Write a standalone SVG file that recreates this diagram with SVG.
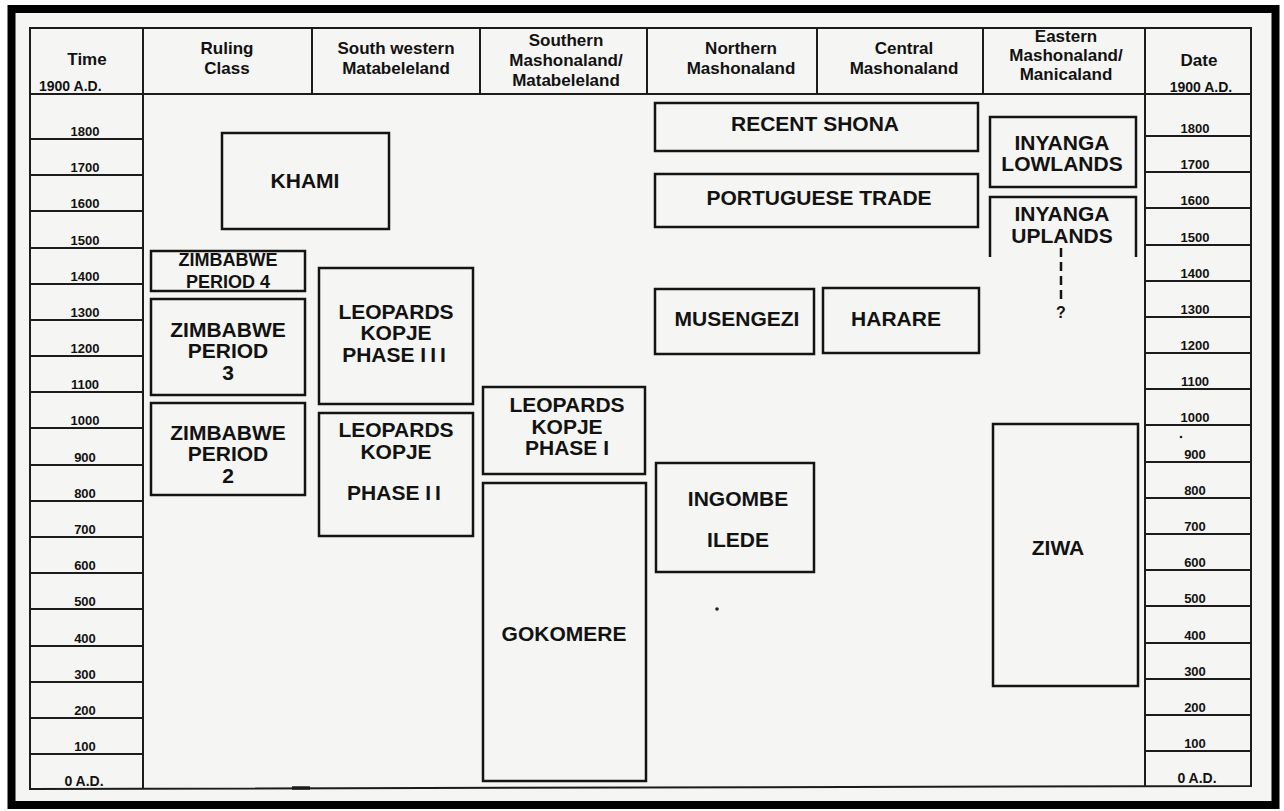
<svg xmlns="http://www.w3.org/2000/svg" width="1284" height="811" viewBox="0 0 1284 811">
<style>
  text { font-family: "Liberation Sans", Arial, sans-serif; font-weight: 700; fill: #121212; text-anchor: middle; }
  .hd { font-size: 17px; }
  .yr { font-size: 13px; }
  .ad { font-size: 14px; }
  .bx { font-size: 21px; }
  .grid line, .grid path { stroke: #1c1c1c; stroke-width: 2; fill: none; }
  .node rect, .node path { fill: none; stroke: #141414; stroke-width: 2.5; }
  .dash { stroke: #141414; stroke-width: 2.5; stroke-dasharray: 9 5; fill: none; }
</style>
<rect x="0" y="0" width="1284" height="811" fill="#ffffff"/>
<rect x="11.5" y="9" width="1264" height="796" fill="#f5f5f3" stroke="#000000" stroke-width="8"/>

<g id="grid" class="grid">
  <path d="M30,28 H1251 V786 L30,789 Z"/>
  <line x1="30" y1="94" x2="1251" y2="94"/>
  <line x1="143" y1="28" x2="143" y2="789"/>
  <line x1="312" y1="28" x2="312" y2="94"/>
  <line x1="480" y1="28" x2="480" y2="94"/>
  <line x1="647" y1="28" x2="647" y2="94"/>
  <line x1="817" y1="28" x2="817" y2="94"/>
  <line x1="983" y1="28" x2="983" y2="94"/>
  <line x1="1145" y1="28" x2="1145" y2="786"/>
  <line x1="292" y1="788" x2="310" y2="788" style="stroke-width:3.5"/>
  <line x1="30" y1="139" x2="143" y2="139"/>
  <line x1="30" y1="175" x2="143" y2="175"/>
  <line x1="30" y1="211" x2="143" y2="211"/>
  <line x1="30" y1="248" x2="143" y2="248"/>
  <line x1="30" y1="284" x2="143" y2="284"/>
  <line x1="30" y1="320" x2="143" y2="320"/>
  <line x1="30" y1="356" x2="143" y2="356"/>
  <line x1="30" y1="392" x2="143" y2="392"/>
  <line x1="30" y1="428" x2="143" y2="428"/>
  <line x1="30" y1="465" x2="143" y2="465"/>
  <line x1="30" y1="501" x2="143" y2="501"/>
  <line x1="30" y1="537" x2="143" y2="537"/>
  <line x1="30" y1="573" x2="143" y2="573"/>
  <line x1="30" y1="609" x2="143" y2="609"/>
  <line x1="30" y1="646" x2="143" y2="646"/>
  <line x1="30" y1="682" x2="143" y2="682"/>
  <line x1="30" y1="718" x2="143" y2="718"/>
  <line x1="30" y1="754" x2="143" y2="754"/>
  <line x1="1145" y1="136" x2="1251" y2="136"/>
  <line x1="1145" y1="172" x2="1251" y2="172"/>
  <line x1="1145" y1="208" x2="1251" y2="208"/>
  <line x1="1145" y1="245" x2="1251" y2="245"/>
  <line x1="1145" y1="281" x2="1251" y2="281"/>
  <line x1="1145" y1="317" x2="1251" y2="317"/>
  <line x1="1145" y1="353" x2="1251" y2="353"/>
  <line x1="1145" y1="389" x2="1251" y2="389"/>
  <line x1="1145" y1="425" x2="1251" y2="425"/>
  <line x1="1145" y1="462" x2="1251" y2="462"/>
  <line x1="1145" y1="498" x2="1251" y2="498"/>
  <line x1="1145" y1="534" x2="1251" y2="534"/>
  <line x1="1145" y1="570" x2="1251" y2="570"/>
  <line x1="1145" y1="606" x2="1251" y2="606"/>
  <line x1="1145" y1="643" x2="1251" y2="643"/>
  <line x1="1145" y1="679" x2="1251" y2="679"/>
  <line x1="1145" y1="715" x2="1251" y2="715"/>
  <line x1="1145" y1="751" x2="1251" y2="751"/>
</g>

<g id="header">
  <text class="hd" x="87" y="65">Time</text>
  <text class="ad" x="39" y="91" style="text-anchor:start">1900 A.D.</text>
  <text class="hd" x="227" y="54">Ruling</text>
  <text class="hd" x="227" y="74">Class</text>
  <text class="hd" x="396" y="54">South western</text>
  <text class="hd" x="396" y="74">Matabeleland</text>
  <text class="hd" x="566" y="46">Southern</text>
  <text class="hd" x="566" y="66">Mashonaland/</text>
  <text class="hd" x="566" y="86">Matabeleland</text>
  <text class="hd" x="741" y="54">Northern</text>
  <text class="hd" x="741" y="74">Mashonaland</text>
  <text class="hd" x="904" y="54">Central</text>
  <text class="hd" x="904" y="74">Mashonaland</text>
  <text class="hd" x="1066" y="42">Eastern</text>
  <text class="hd" x="1066" y="61">Mashonaland/</text>
  <text class="hd" x="1066" y="80">Manicaland</text>
  <text class="hd" x="1199" y="66">Date</text>
  <text class="ad" x="1201" y="92">1900 A.D.</text>
</g>

<g id="time-axis">
  <text class="yr" x="85" y="136">1800</text>
  <text class="yr" x="85" y="172">1700</text>
  <text class="yr" x="85" y="208">1600</text>
  <text class="yr" x="85" y="245">1500</text>
  <text class="yr" x="85" y="281">1400</text>
  <text class="yr" x="85" y="317">1300</text>
  <text class="yr" x="85" y="353">1200</text>
  <text class="yr" x="85" y="389">1100</text>
  <text class="yr" x="85" y="425">1000</text>
  <text class="yr" x="85" y="462">900</text>
  <text class="yr" x="85" y="498">800</text>
  <text class="yr" x="85" y="534">700</text>
  <text class="yr" x="85" y="570">600</text>
  <text class="yr" x="85" y="606">500</text>
  <text class="yr" x="85" y="643">400</text>
  <text class="yr" x="85" y="679">300</text>
  <text class="yr" x="85" y="715">200</text>
  <text class="yr" x="85" y="751">100</text>
  <text class="ad" x="84" y="786">0 A.D.</text>
</g>

<g id="date-axis">
  <text class="yr" x="1195" y="133">1800</text>
  <text class="yr" x="1195" y="169">1700</text>
  <text class="yr" x="1195" y="205">1600</text>
  <text class="yr" x="1195" y="242">1500</text>
  <text class="yr" x="1195" y="278">1400</text>
  <text class="yr" x="1195" y="314">1300</text>
  <text class="yr" x="1195" y="350">1200</text>
  <text class="yr" x="1195" y="386">1100</text>
  <text class="yr" x="1195" y="422">1000</text>
  <circle cx="1181" cy="437" r="1.3" fill="#222"/>
  <text class="yr" x="1195" y="459">900</text>
  <text class="yr" x="1195" y="495">800</text>
  <text class="yr" x="1195" y="531">700</text>
  <text class="yr" x="1195" y="567">600</text>
  <text class="yr" x="1195" y="603">500</text>
  <text class="yr" x="1195" y="640">400</text>
  <text class="yr" x="1195" y="676">300</text>
  <text class="yr" x="1195" y="712">200</text>
  <text class="yr" x="1195" y="748">100</text>
  <text class="ad" x="1197" y="783">0 A.D.</text>
</g>

<g id="khami" class="node">
  <rect x="222" y="133" width="167" height="96"/>
  <text class="bx" x="305" y="188">KHAMI</text>
</g>
<g id="zimbabwe-4" class="node">
  <rect x="151" y="251" width="154" height="40"/>
  <text class="bx" x="228" y="266" style="font-size:18px">ZIMBABWE</text>
  <text class="bx" x="228" y="288" style="font-size:18px">PERIOD 4</text>
</g>
<g id="zimbabwe-3" class="node">
  <rect x="151" y="299" width="154" height="96"/>
  <text class="bx" x="228" y="337">ZIMBABWE</text>
  <text class="bx" x="228" y="358">PERIOD</text>
  <text class="bx" x="228" y="380">3</text>
</g>
<g id="zimbabwe-2" class="node">
  <rect x="151" y="403" width="154" height="92"/>
  <text class="bx" x="228" y="440">ZIMBABWE</text>
  <text class="bx" x="228" y="461">PERIOD</text>
  <text class="bx" x="228" y="483">2</text>
</g>
<g id="leopards-kopje-3" class="node">
  <rect x="319" y="268" width="154" height="136"/>
  <text class="bx" x="396" y="319">LEOPARDS</text>
  <text class="bx" x="396" y="340">KOPJE</text>
  <text class="bx" x="396" y="362">PHASE <tspan letter-spacing="4">III</tspan></text>
</g>
<g id="leopards-kopje-2" class="node">
  <rect x="319" y="413" width="154" height="123"/>
  <text class="bx" x="396" y="437">LEOPARDS</text>
  <text class="bx" x="396" y="459">KOPJE</text>
  <text class="bx" x="396" y="500">PHASE <tspan letter-spacing="4">II</tspan></text>
</g>
<g id="leopards-kopje-1" class="node">
  <rect x="483" y="387" width="162" height="87"/>
  <text class="bx" x="567" y="412">LEOPARDS</text>
  <text class="bx" x="567" y="434">KOPJE</text>
  <text class="bx" x="567" y="455">PHASE I</text>
</g>
<g id="gokomere" class="node">
  <rect x="483" y="483" width="163" height="298"/>
  <text class="bx" x="564" y="641">GOKOMERE</text>
</g>
<g id="recent-shona" class="node">
  <rect x="655" y="103" width="323" height="48"/>
  <text class="bx" x="815" y="131">RECENT SHONA</text>
</g>
<g id="portuguese-trade" class="node">
  <rect x="655" y="174" width="323" height="53"/>
  <text class="bx" x="819" y="205">PORTUGUESE TRADE</text>
</g>
<g id="musengezi" class="node">
  <rect x="655" y="289" width="159" height="65"/>
  <text class="bx" x="737" y="326">MUSENGEZI</text>
</g>
<g id="harare" class="node">
  <rect x="823" y="288" width="156" height="65"/>
  <text class="bx" x="896" y="326">HARARE</text>
</g>
<g id="ingombe-ilede" class="node">
  <rect x="656" y="463" width="158" height="109"/>
  <text class="bx" x="738" y="506">INGOMBE</text>
  <text class="bx" x="738" y="547">ILEDE</text>
</g>
<circle cx="717" cy="609" r="1.8" fill="#222"/>
<g id="inyanga-lowlands" class="node">
  <rect x="990" y="117" width="146" height="70"/>
  <text class="bx" x="1062" y="150">INYANGA</text>
  <text class="bx" x="1062" y="171">LOWLANDS</text>
</g>
<g id="inyanga-uplands" class="node">
  <path d="M990,257 V197 H1136 V257"/>
  <text class="bx" x="1062" y="221">INYANGA</text>
  <text class="bx" x="1062" y="243">UPLANDS</text>
</g>
<g id="ziwa" class="node">
  <rect x="993" y="424" width="145" height="262"/>
  <text class="bx" x="1058" y="555">ZIWA</text>
</g>

<g id="connectors">
  <line class="dash" x1="1061" y1="248" x2="1061" y2="302"/>
  <text x="1061" y="318" style="font-size:16px">?</text>
</g>
</svg>
